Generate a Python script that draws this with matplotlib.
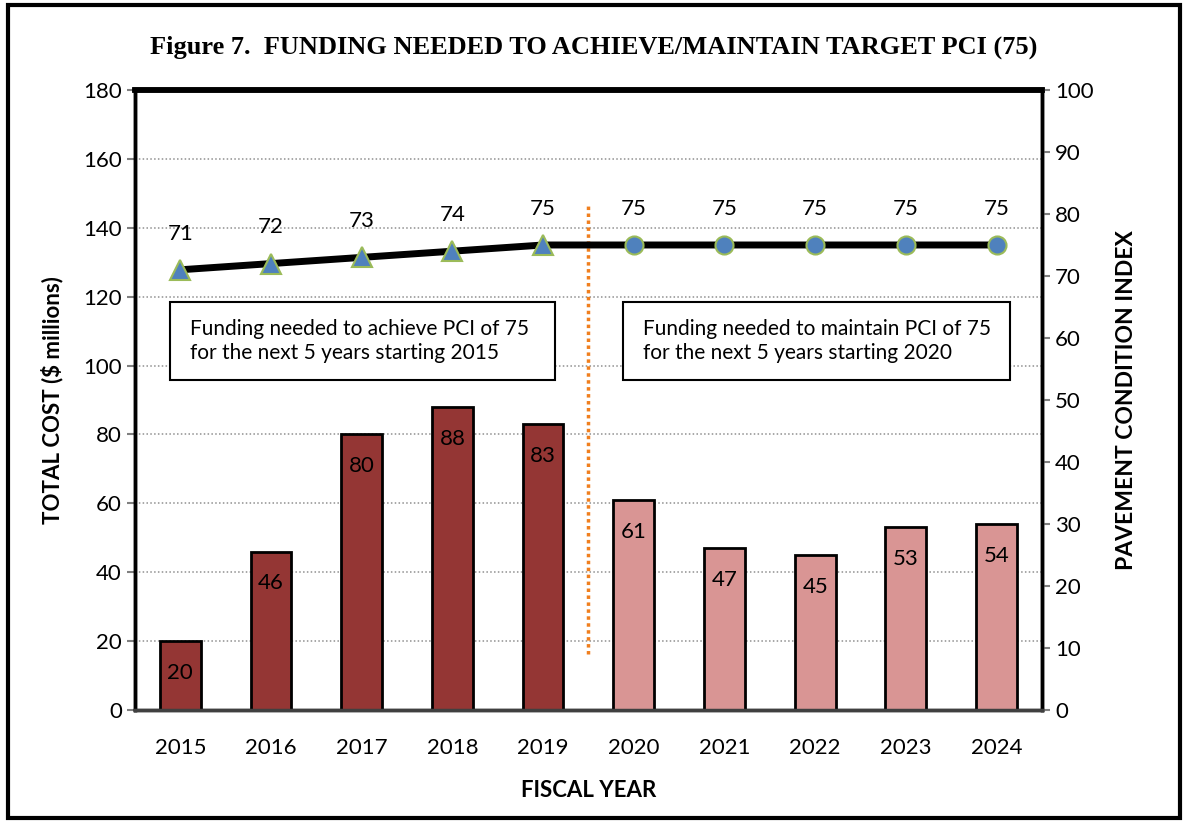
import matplotlib.pyplot as plt
import matplotlib.patches as mpatches
import numpy as np

years = [2015, 2016, 2017, 2018, 2019, 2020, 2021, 2022, 2023, 2024]
cost = [20, 46, 80, 88, 83, 61, 47, 45, 53, 54]
pci = [71, 72, 73, 74, 75, 75, 75, 75, 75, 75]
n_achieve = 5

dark = '#943634'
light = '#D99594'
body = ['Lato', 'DejaVu Sans']

fig = plt.figure(figsize=(11.88, 8.21), dpi=100)
ax = fig.add_axes([0.1136, 0.1352, 0.7634, 0.7552])
ax2 = ax.twinx()

x = np.arange(len(years))
colors = [dark] * n_achieve + [light] * (len(years) - n_achieve)
ax.bar(x, cost, width=0.45, color=colors, edgecolor='black', linewidth=2, zorder=3)
for xi, c in zip(x, cost):
    ax.annotate(str(c), (xi, c), xytext=(0, -23), textcoords='offset points',
                ha='center', va='center', fontsize=16, family=body, zorder=4)

ax.set_ylim(0, 180)
ax.set_yticks(range(0, 181, 20))
ax.set_xlim(-0.5, len(years) - 0.5)
ax.set_xticks(x)
ax.set_xticklabels([str(y) for y in years])
ax.yaxis.grid(True, linestyle=(0, (1, 1.5)), color='#909090', linewidth=1.1, zorder=0)
ax.set_axisbelow(True)

ax2.set_ylim(0, 100)
ax2.set_yticks(range(0, 101, 10))
# PCI line
ax2.plot(x, pci, color='black', linewidth=5, zorder=5)
ax2.plot(x[:n_achieve], pci[:n_achieve], linestyle='none', marker='^', markersize=15,
         markerfacecolor='#4F81BD', markeredgecolor='#9BBB59', markeredgewidth=1.5, zorder=6)
ax2.plot(x[n_achieve:], pci[n_achieve:], linestyle='none', marker='o', markersize=13,
         markerfacecolor='#4F81BD', markeredgecolor='#9BBB59', markeredgewidth=1.5, zorder=6)
for xi, p in zip(x, pci):
    ax2.annotate(str(p), (xi, p), xytext=(0, 26), textcoords='offset points',
                 ha='center', va='center', fontsize=16, family=body)

# divider between achieve / maintain periods
ax2.plot([n_achieve - 0.5, n_achieve - 0.5], [9, 81.5], color='#F07F1E',
         linestyle=(0, (1, 1)), linewidth=2.5, zorder=4)

# note boxes
for x0, x1, txt in [(-0.114, 4.13, 'Funding needed to achieve PCI of 75\nfor the next 5 years starting 2015'),
                    (4.88, 9.15, 'Funding needed to maintain PCI of 75\nfor the next 5 years starting 2020')]:
    ax2.add_patch(mpatches.Rectangle((x0, 53.2), x1 - x0, 12.6, facecolor='white',
                                     edgecolor='black', linewidth=1.5, zorder=7))
    ax2.text(x0 + 0.22, 59.5, txt, ha='left', va='center', fontsize=15, family=body,
             linespacing=1.3, zorder=8)

for a in (ax, ax2):
    a.tick_params(labelsize=16, length=6, color='#808080', width=1.5)
    for lab in a.get_xticklabels() + a.get_yticklabels():
        lab.set_family(body)
    for s in ('left', 'right', 'top'):
        a.spines[s].set_color('black')
        a.spines[s].set_linewidth(2.5)
    a.spines['top'].set_linewidth(4)
    a.spines['bottom'].set_color('#404040')
    a.spines['bottom'].set_linewidth(2.5)
ax.tick_params(axis='x', length=0, pad=20)

ax.set_xlabel('FISCAL YEAR', fontsize=16, fontweight='bold', family=body, labelpad=16)
ax.set_ylabel('TOTAL COST ($ millions)', fontsize=16, fontweight='bold', family=body, labelpad=14)
ax2.set_ylabel('PAVEMENT CONDITION INDEX', fontsize=16.5, fontweight='bold', family=body, labelpad=16)

fig.text(0.5, 0.942, 'Figure 7.  FUNDING NEEDED TO ACHIEVE/MAINTAIN TARGET PCI (75)',
         ha='center', va='center', fontsize=19, fontweight='bold', family='Liberation Serif')

fig.patches.append(mpatches.Rectangle((0.007, 0.004), 0.986, 0.99, transform=fig.transFigure,
                                      fill=False, edgecolor='black', linewidth=3))

fig.savefig('out.png', dpi=100)
